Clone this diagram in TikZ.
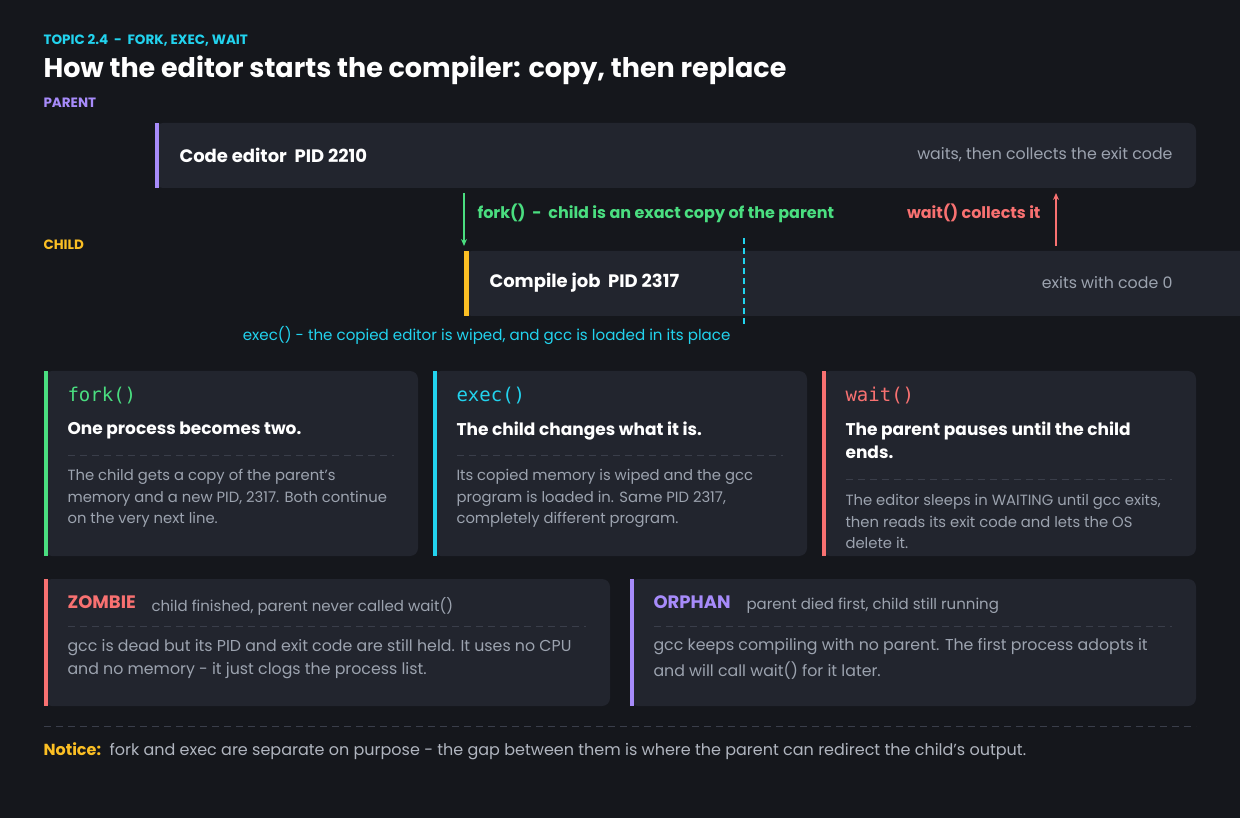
\documentclass[tikz,border=0pt]{standalone}
\usepackage{fontspec}
\setmainfont{Poppins}
\setmonofont{DejaVu Sans Mono}
\usetikzlibrary{arrows.meta}
\definecolor{bg}{HTML}{15171C}
\definecolor{card}{HTML}{22252E}
\definecolor{cgreen}{HTML}{4ADE80}
\definecolor{ccyan}{HTML}{22D3EE}
\definecolor{cred}{HTML}{F87171}
\definecolor{cpurple}{HTML}{A78BFA}
\definecolor{cyellow}{HTML}{FBBF24}
\definecolor{cgray}{HTML}{9CA3AF}
\definecolor{crule}{HTML}{3A3E4A}
\tikzset{
  panel/.style = {fill=card, rounded corners=8pt, draw=none},
  accent/.style = {fill=#1, draw=none},
  tag/.style = {anchor=west, font=\fontsize{13.5}{16}\selectfont\bfseries, text=#1},
  bartext/.style = {anchor=west, font=\fontsize{18}{21}\selectfont\bfseries, text=white},
  note/.style = {font=\fontsize{15.8}{19}\selectfont, text=cgray},
  mono/.style = {anchor=west, font=\fontsize{19}{22}\ttfamily, text=#1},
  head/.style = {anchor=north west, align=left, font=\fontsize{17}{23}\selectfont\bfseries, text=white},
  body/.style = {anchor=north west, align=left, font=\fontsize{14.8}{21.5}\selectfont, text=cgray},
  sep/.style = {crule, dashed, dash pattern=on 7pt off 5pt, line width=0.8pt},
  arrow/.style = {line width=1.2pt, -{Stealth[length=7pt,width=6pt]}},
}
\begin{document}
\begin{tikzpicture}[x=1pt,y=-1pt]
\fill[bg] (0,0) rectangle (1240,818);
\useasboundingbox (0,0) rectangle (1240,818);

% header
\node (topic)[tag=ccyan] at (40,40) {TOPIC 2.4\ \ -\ \ FORK, EXEC, WAIT};
\node (title)[anchor=west, font=\fontsize{27}{30}\selectfont\bfseries, text=white] at (40,70) {How the editor starts the compiler: copy, then replace};
\node (parentlbl)[tag=cpurple] at (40,103) {PARENT};
\node (childlbl)[tag=cyellow] at (40,245) {CHILD};

% process bars
\fill[panel] (155,123) rectangle (1196,188);
\fill[accent=cpurple] (155,123) rectangle (159,188);
\node (editor)[bartext] at (176,155) {Code editor\ \ PID 2210};
\node (editornote)[note, anchor=east] at (1176,155) {waits, then collects the exit code};

\fill[panel] (464,251) rectangle (1250,316);
\fill[accent=cyellow] (464,251) rectangle (469,316);
\node (job)[bartext] at (486,283) {Compile job\ \ PID 2317};
\node (jobnote)[note, anchor=east] at (1176,283) {exits with code 0};

% fork / wait / exec
\coordinate (forktop) at (464,193);
\coordinate (forkbot) at (464,246);
\draw[arrow, cgreen] (forktop) -- (forkbot);
\node (forklbl)[tag=cgreen, font=\fontsize{16}{19}\selectfont\bfseries] at (474,213) {fork()\ \ -\ \ child is an exact copy of the parent};
\coordinate (waitbot) at (1056,246);
\coordinate (waittop) at (1056,193);
\draw[arrow, cred] (waitbot) -- (waittop);
\node (waitlbl)[anchor=east, font=\fontsize{16}{19}\selectfont\bfseries, text=cred] at (1044,213) {wait() collects it};
\coordinate (exectop) at (744,238);
\coordinate (execbot) at (744,327);
\draw[ccyan, line width=1.2pt, dash pattern=on 6pt off 4pt] (exectop) -- (execbot);
\node (execlbl)[anchor=east, font=\fontsize{15.1}{19}\selectfont, text=ccyan] at (734,335) {exec() - the copied editor is wiped, and gcc is loaded in its place};

% three cards
\foreach \x/\c in {44/cgreen, 433/ccyan, 822/cred} {
  \fill[panel] (\x,371) rectangle ++(374,185);
  \fill[accent=\c] (\x,371) rectangle ++(4,185);
}
\node (forkt)[mono=cgreen] at (64,396) {fork()};
\node (forkh)[head] at (64,418) {One process becomes two.};
\draw[sep] (68,455) -- (394,455);
\node (forkb)[body] at (64,466) {The child gets a copy of the parent's\\memory and a new PID, 2317. Both continue\\on the very next line.};

\node (exect)[mono=ccyan] at (453,396) {exec()};
\node (exech)[head] at (453,418) {The child changes what it is.};
\draw[sep] (457,455) -- (783,455);
\node (execb)[body] at (453,466) {Its copied memory is wiped and the gcc\\program is loaded in. Same PID 2317,\\completely different program.};

\node (waitt)[mono=cred] at (842,396) {wait()};
\node (waith)[head] at (842,418) {The parent pauses until the child\\ends.};
\draw[sep] (846,479) -- (1172,479);
\node (waitb)[body] at (842,491) {The editor sleeps in WAITING until gcc exits,\\then reads its exit code and lets the OS\\delete it.};

% zombie / orphan
\fill[panel] (44,579) rectangle (610,706);
\fill[accent=cred] (44,579) rectangle (48,706);
\node (zombie)[anchor=base west, font=\fontsize{18}{21}\selectfont\bfseries, text=cred] at (64,608) {ZOMBIE};
\node (zombiesub)[note, font=\fontsize{15}{18}\selectfont, anchor=base west] at (148,611) {child finished, parent never called wait()};
\draw[sep] (68,626) -- (586,626);
\node (zombieb)[body, font=\fontsize{15.8}{23}\selectfont] at (64,636) {gcc is dead but its PID and exit code are still held. It uses no CPU\\and no memory - it just clogs the process list.};

\fill[panel] (630,579) rectangle (1196,706);
\fill[accent=cpurple] (630,579) rectangle (634,706);
\node (orphan)[anchor=base west, font=\fontsize{18}{21}\selectfont\bfseries, text=cpurple] at (650,608) {ORPHAN};
\node (orphansub)[note, font=\fontsize{15}{18}\selectfont, anchor=base west] at (743,609) {parent died first, child still running};
\draw[sep] (654,626) -- (1172,626);
\node (orphanb)[body, font=\fontsize{15.8}{26}\selectfont] at (650,635) {gcc keeps compiling with no parent. The first process adopts it\\and will call wait() for it later.};

% notice
\draw[sep] (44,726) -- (1196,726);
\node (notice)[anchor=west, font=\fontsize{16}{19}\selectfont, text=cgray!80!white] at (40,751) {\textcolor{cyellow}{\bfseries Notice:}\ \ fork and exec are separate on purpose - the gap between them is where the parent can redirect the child's output.};
\end{tikzpicture}
\end{document}
